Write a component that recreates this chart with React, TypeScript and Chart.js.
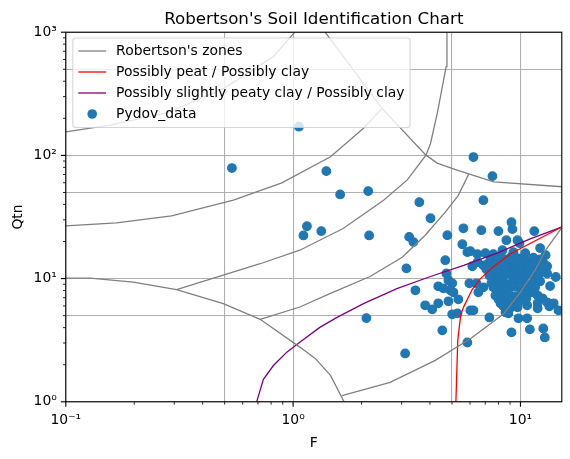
import React, { useEffect, useRef } from 'react';
import { Chart, registerables } from 'chart.js';

Chart.register(...registerables);

// ---------- texts ----------
const TITLE = "Robertson's Soil Identification Chart";
const X_TITLE = 'F';
const Y_TITLE = 'Qtn';
const LEGEND_LABELS = [
  "Robertson's zones",
  'Possibly peat / Possibly clay',
  'Possibly slightly peaty clay / Possibly clay',
  'Pydov_data',
];

// ---------- axes ----------
const X_MIN = 0.1;
const X_MAX = 15.2;
const Y_MIN = 1;
const Y_MAX = 1000;
const X_GRID = [0.1, 0.5, 1, 5, 10];
const Y_GRID = [1, 5, 10, 50, 100, 500, 1000];
const X_TICK_VALUES = [0.1, 1, 10];
const X_TICK_LABELS = ['10⁻¹', '10⁰', '10¹'];
const Y_TICK_VALUES = [1, 10, 100, 1000];
const Y_TICK_LABELS = ['10⁰', '10¹', '10²', '10³'];

// ---------- Robertson zone boundaries (F, Qtn) ----------
const ZONE_TOP_F = [0.1, 0.156, 0.279, 0.497, 0.816, 1.02];
const ZONE_TOP_Q = [155, 176, 221, 352, 630, 1007];

const ZONE_A_F = [0.1, 0.167, 0.292, 0.546, 0.892, 1.46, 2.04, 2.46];
const ZONE_A_Q = [26.8, 28.3, 32.3, 43.3, 59.9, 97.4, 166, 241];

const ZONE_89_F = [1.38, 2.46, 3.84, 4.3, 5.26, 7.63, 15.3];
const ZONE_89_Q = [1005, 241, 100.5, 86.6, 76.0, 61.0, 55.6];

const ZONE_B_F = [0.307, 0.716, 1.07, 1.66, 2.5, 3.17, 3.84, 4.02, 4.31, 4.71, 4.75];
const ZONE_B_Q = [8.14, 13.2, 17.0, 25.5, 43.3, 63.0, 100.5, 125, 221, 525, 1005];

const ZONE_C_F = [0.716, 1.07, 1.46, 2.18, 3.02, 3.81, 4.67, 5.33, 5.92];
const ZONE_C_Q = [4.67, 5.88, 7.59, 10.4, 14.9, 22.5, 34.6, 47.4, 70.5];

const ZONE_D_F = [1.64, 2.67, 4.22, 6.02, 8.44, 10.0, 11.6, 12.9, 15.3];
const ZONE_D_Q = [1.12, 1.44, 2.17, 3.25, 5.19, 7.78, 11.7, 17.0, 26.3];

const ZONE_LOW_F = [0.1, 0.128, 0.198, 0.307, 0.493, 0.625, 0.716, 1.07, 1.25, 1.46, 1.69];
const ZONE_LOW_Q = [10.1, 10.1, 9.38, 8.14, 6.26, 5.19, 4.67, 2.78, 2.25, 1.64, 0.97];

// ---------- classification lines ----------
const PEAT_F = [5.18, 5.2, 5.25, 5.3, 5.39, 5.47, 5.64, 5.84, 6.14, 6.67, 7.6, 9.04, 11.4, 15.3];
const PEAT_Q = [0.8, 1.0, 1.8, 3.15, 4.17, 5.13, 5.95, 6.79, 8.19, 10.0, 12.5, 15.9, 19.9, 26.4];

const PEATY_CLAY_F = [0.688, 0.74, 0.819, 0.938, 1.07, 1.31, 1.56, 2.04, 2.86, 4.02, 5.63, 7.89, 11.1, 15.3];
const PEATY_CLAY_Q = [0.97, 1.52, 1.97, 2.53, 3.04, 4.02, 4.85, 6.26, 8.29, 10.4, 12.8, 16.1, 21.1, 26.3];

// ---------- Pydov data ----------
const PYDOV_F = [
  0.538, 1.06, 1.4, 1.61, 2.14, 3.59, 4.02, 1.15, 1.11, 1.33, 2.16, 3.24, 3.38, 2.1, 4.53, 3.11,
  3.15, 3.45, 4.77, 5.61, 5.55, 5.84, 4.67, 4.72, 4.82, 5.01, 4.35, 4.58, 4.92, 5.07, 5.96, 4.82,
  5.33, 3.81, 4.09, 4.35, 5.01, 5.28, 5.84, 6.21, 7.53, 6.87, 6.73, 9.13, 9.22, 8.0, 11.5, 8.67,
  9.7, 9.9, 6.02, 6.47, 7.01, 7.6, 8.33, 9.31, 10.5, 12.2, 12.9, 9.13, 11.0, 12.6, 12.8, 7.3,
  6.02, 8.59, 10.7, 9.8, 8.85, 8.17, 8.85, 9.7, 10.7, 11.9, 13.1, 14.0, 14.7, 12.5, 11.9, 13.1,
  14.3, 6.87, 12.4, 13.4, 6.21, 6.4, 6.53, 6.47, 6.14, 6.87,
  7.38, 7.92, 8.5, 9.13, 9.8, 10.6, 11.4, 12.2,
  7.23, 7.68, 8.24, 8.85, 9.51, 10.2, 11.0, 11.7, 12.6,
  7.08, 7.53, 8.08, 8.67, 9.31, 10.0, 10.7, 11.5, 12.4,
  7.3, 7.84, 8.41, 9.04, 9.7, 10.4, 11.2, 12.0,
  7.45, 8.0, 8.59, 9.22, 9.9, 10.6, 11.4, 12.2,
  7.6, 8.17, 8.77, 9.41, 10.1, 10.8, 11.6,
  7.76, 8.33, 8.95, 9.6, 10.3, 11.1, 11.9,
  8.0, 8.59, 9.22, 9.9, 10.6,
  8.41, 9.04, 9.7, 13.1, 13.5,
];
const PYDOV_Q = [
  78.9, 171, 74.5, 48.2, 51.3, 41.7, 30.9, 26.6, 22.4, 24.3, 22.4, 21.8, 19.8, 4.78, 3.8, 2.47,
  12.1, 8.03, 22.5, 25.6, 19.0, 16.4, 14.1, 11.0, 9.69, 9.16, 8.66, 8.34, 8.03, 7.74, 9.16, 6.54,
  6.79, 6.07, 5.63, 6.3, 5.13, 5.22, 3.03, 96.9, 67.9, 43.3, 24.7, 28.7, 25.2, 24.3, 24.3, 20.5,
  20.5, 19.4, 16.7, 15.8, 16.1, 15.8, 17.0, 16.4, 16.1, 17.7, 15.5, 3.66, 3.87, 3.94, 3.33, 4.84,
  5.52, 5.32, 4.76, 4.76, 5.22, 6.3, 6.07, 5.85, 6.07, 6.3, 6.42, 6.3, 5.52, 6.92, 5.74, 11.0,
  10.3, 8.5, 14.1, 5.95, 5.52, 9.16, 7.74, 13.6, 12.6, 12.8,
  14.2, 14.9, 14.4, 15.1, 14.6, 14.0, 14.8, 14.3,
  13.3, 12.8, 13.5, 12.9, 13.2, 13.6, 12.7, 13.0, 13.4,
  11.9, 11.4, 11.8, 12.1, 11.5, 11.7, 12.0, 11.3, 11.6,
  10.6, 10.2, 10.5, 10.8, 10.1, 10.4, 10.7, 10.3,
  9.2, 9.5, 9.1, 9.4, 9.6, 9.0, 9.3, 9.5,
  8.5, 8.2, 8.4, 8.6, 8.1, 8.3, 8.5,
  7.3, 7.6, 7.4, 7.2, 7.5, 7.7, 7.3,
  6.8, 6.5, 6.7, 6.6, 6.9,
  6.0, 5.8, 6.1, 12.6, 8.7,
];

// ---------- colours ----------
const ZONE_COLOR = '#808080';
const PEAT_COLOR = '#ff0000';
const PEATY_CLAY_COLOR = '#800080';
const DATA_COLOR = '#1f77b4';
const GRID_COLOR = '#b0b0b0';
const FONT = '"DejaVu Sans"';

const pts = (fs: number[], qs: number[]) => fs.map((f, i) => ({ x: f, y: qs[i] }));

const ZONES: [number[], number[]][] = [
  [ZONE_TOP_F, ZONE_TOP_Q],
  [ZONE_A_F, ZONE_A_Q],
  [ZONE_89_F, ZONE_89_Q],
  [ZONE_B_F, ZONE_B_Q],
  [ZONE_C_F, ZONE_C_Q],
  [ZONE_D_F, ZONE_D_Q],
  [ZONE_LOW_F, ZONE_LOW_Q],
];

const sameVal = (a: number, b: number) => Math.abs(Math.log10(a) - Math.log10(b)) < 1e-6;

const minorTicks = (lo: number, hi: number) => {
  const out: number[] = [];
  for (let e = Math.floor(Math.log10(lo)) - 1; e <= Math.ceil(Math.log10(hi)); e++) {
    for (let k = 2; k <= 9; k++) {
      const v = k * Math.pow(10, e);
      if (v > lo * 1.0001 && v < hi * 0.9999) out.push(v);
    }
  }
  return out;
};

const overlay = {
  id: 'mplOverlay',
  afterDraw(chart: any) {
    const { ctx, chartArea: a, scales } = chart;
    const xs = scales.x;
    const ys = scales.y;
    ctx.save();

    // tick marks
    ctx.strokeStyle = '#000';
    const seg = (x1: number, y1: number, x2: number, y2: number, w: number) => {
      ctx.lineWidth = w;
      ctx.beginPath();
      ctx.moveTo(x1, y1);
      ctx.lineTo(x2, y2);
      ctx.stroke();
    };
    for (const v of X_TICK_VALUES) {
      const p = xs.getPixelForValue(v);
      seg(p, a.bottom, p, a.bottom + 4.9, 1.1);
    }
    for (const v of minorTicks(X_MIN, X_MAX)) {
      const p = xs.getPixelForValue(v);
      seg(p, a.bottom, p, a.bottom + 2.8, 0.85);
    }
    for (const v of Y_TICK_VALUES) {
      const p = ys.getPixelForValue(v);
      seg(a.left, p, a.left - 4.9, p, 1.1);
    }
    for (const v of minorTicks(Y_MIN, Y_MAX)) {
      const p = ys.getPixelForValue(v);
      seg(a.left, p, a.left - 2.8, p, 0.85);
    }

    // frame
    ctx.lineWidth = 1.1;
    ctx.strokeRect(a.left, a.top, a.right - a.left, a.bottom - a.top);

    // legend
    const fsz = 13.9;
    ctx.font = `${fsz}px ${FONT}`;
    const lx = a.left + 7;
    const ly = a.top + 5.8;
    const handleX0 = lx + 5.5;
    const handleX1 = handleX0 + 27.8;
    const textX = handleX1 + 10;
    const maxW = Math.max(...LEGEND_LABELS.map((t) => ctx.measureText(t).width));
    const bw = textX - lx + maxW + 5.5;
    const rowGap = 21;
    const firstRow = ly + 13;
    const bh = 13 + rowGap * 3 + 13.5;
    const r = 3;
    ctx.beginPath();
    ctx.moveTo(lx + r, ly);
    ctx.lineTo(lx + bw - r, ly);
    ctx.arcTo(lx + bw, ly, lx + bw, ly + r, r);
    ctx.lineTo(lx + bw, ly + bh - r);
    ctx.arcTo(lx + bw, ly + bh, lx + bw - r, ly + bh, r);
    ctx.lineTo(lx + r, ly + bh);
    ctx.arcTo(lx, ly + bh, lx, ly + bh - r, r);
    ctx.lineTo(lx, ly + r);
    ctx.arcTo(lx, ly, lx + r, ly, r);
    ctx.closePath();
    ctx.fillStyle = 'rgba(255,255,255,0.8)';
    ctx.fill();
    ctx.strokeStyle = 'rgba(204,204,204,0.8)';
    ctx.lineWidth = 1.1;
    ctx.stroke();

    const handleColors = [ZONE_COLOR, PEAT_COLOR, PEATY_CLAY_COLOR];
    LEGEND_LABELS.forEach((label, i) => {
      const cy = firstRow + i * rowGap;
      if (i < 3) {
        ctx.strokeStyle = handleColors[i];
        seg(handleX0, cy, handleX1, cy, 1.3);
      } else {
        ctx.fillStyle = DATA_COLOR;
        ctx.beginPath();
        ctx.arc((handleX0 + handleX1) / 2, cy, 4.8, 0, Math.PI * 2);
        ctx.fill();
      }
      ctx.fillStyle = '#000';
      ctx.textAlign = 'left';
      ctx.textBaseline = 'middle';
      ctx.fillText(label, textX, cy + 0.5);
    });

    // title and axis titles
    const cx = (a.left + a.right) / 2;
    const cyMid = (a.top + a.bottom) / 2;
    ctx.fillStyle = '#000';
    ctx.textAlign = 'center';
    ctx.textBaseline = 'alphabetic';
    ctx.font = `16.7px ${FONT}`;
    ctx.fillText(TITLE, cx, 24);
    ctx.font = `${fsz}px ${FONT}`;
    ctx.fillText(X_TITLE, cx, 447);
    ctx.translate(21.5, cyMid);
    ctx.rotate(-Math.PI / 2);
    ctx.fillText(Y_TITLE, 0, 0);

    ctx.restore();
  },
};

export default function App() {
  const canvasRef = useRef<HTMLCanvasElement | null>(null);

  useEffect(() => {
    const canvas = canvasRef.current;
    if (!canvas) return;

    const lineSet = (data: any[], color: string, label: string) => ({
      label,
      data,
      showLine: true,
      borderColor: color,
      backgroundColor: color,
      borderWidth: 1.3,
      pointRadius: 0,
      pointHoverRadius: 0,
      fill: false,
      clip: 0,
    });

    const datasets: any[] = [
      ...ZONES.map(([f, q], i) => lineSet(pts(f, q), ZONE_COLOR, i === 0 ? LEGEND_LABELS[0] : '')),
      lineSet(pts(PEAT_F, PEAT_Q), PEAT_COLOR, LEGEND_LABELS[1]),
      lineSet(pts(PEATY_CLAY_F, PEATY_CLAY_Q), PEATY_CLAY_COLOR, LEGEND_LABELS[2]),
      {
        label: LEGEND_LABELS[3],
        data: pts(PYDOV_F, PYDOV_Q),
        showLine: false,
        pointRadius: 4.3,
        pointHoverRadius: 4.3,
        pointBorderWidth: 1.2,
        backgroundColor: DATA_COLOR,
        borderColor: DATA_COLOR,
        clip: 0,
      },
    ];

    const tickFont = { family: 'DejaVu Sans', size: 13.9 };

    const chart = new Chart(canvas, {
      type: 'scatter',
      data: { datasets },
      plugins: [overlay],
      options: {
        responsive: false,
        animation: false,
        events: [],
        devicePixelRatio: 1,
        layout: { padding: { left: 0, right: 8.2, top: 32.2, bottom: 0 } },
        plugins: {
          legend: { display: false },
          title: { display: false },
          tooltip: { enabled: false },
        },
        scales: {
          x: {
            type: 'logarithmic',
            min: X_MIN,
            max: X_MAX,
            afterBuildTicks: (s: any) => {
              s.ticks = X_GRID.map((value) => ({ value }));
            },
            afterFit: (s: any) => {
              s.height = 459 - 401.8;
            },
            grid: { color: GRID_COLOR, lineWidth: 1.1, drawTicks: false },
            border: { display: false },
            ticks: {
              autoSkip: false,
              maxRotation: 0,
              minRotation: 0,
              padding: 10,
              color: '#000',
              font: tickFont,
              callback: (v: any) => {
                const i = X_TICK_VALUES.findIndex((t) => sameVal(t, Number(v)));
                return i >= 0 ? X_TICK_LABELS[i] : '';
              },
            },
          },
          y: {
            type: 'logarithmic',
            min: Y_MIN,
            max: Y_MAX,
            afterBuildTicks: (s: any) => {
              s.ticks = Y_GRID.map((value) => ({ value }));
            },
            afterFit: (s: any) => {
              s.width = 65.8;
            },
            grid: { color: GRID_COLOR, lineWidth: 1.1, drawTicks: false },
            border: { display: false },
            ticks: {
              autoSkip: false,
              padding: 9,
              color: '#000',
              font: tickFont,
              callback: (v: any) => {
                const i = Y_TICK_VALUES.findIndex((t) => sameVal(t, Number(v)));
                return i >= 0 ? Y_TICK_LABELS[i] : '';
              },
            },
          },
        },
      } as any,
    });

    return () => chart.destroy();
  }, []);

  return (
    <div style={{ position: 'fixed', left: 0, top: 0, width: 570, height: 459, background: '#fff' }}>
      <canvas ref={canvasRef} width={570} height={459} style={{ display: 'block', width: 570, height: 459 }} />
    </div>
  );
}
